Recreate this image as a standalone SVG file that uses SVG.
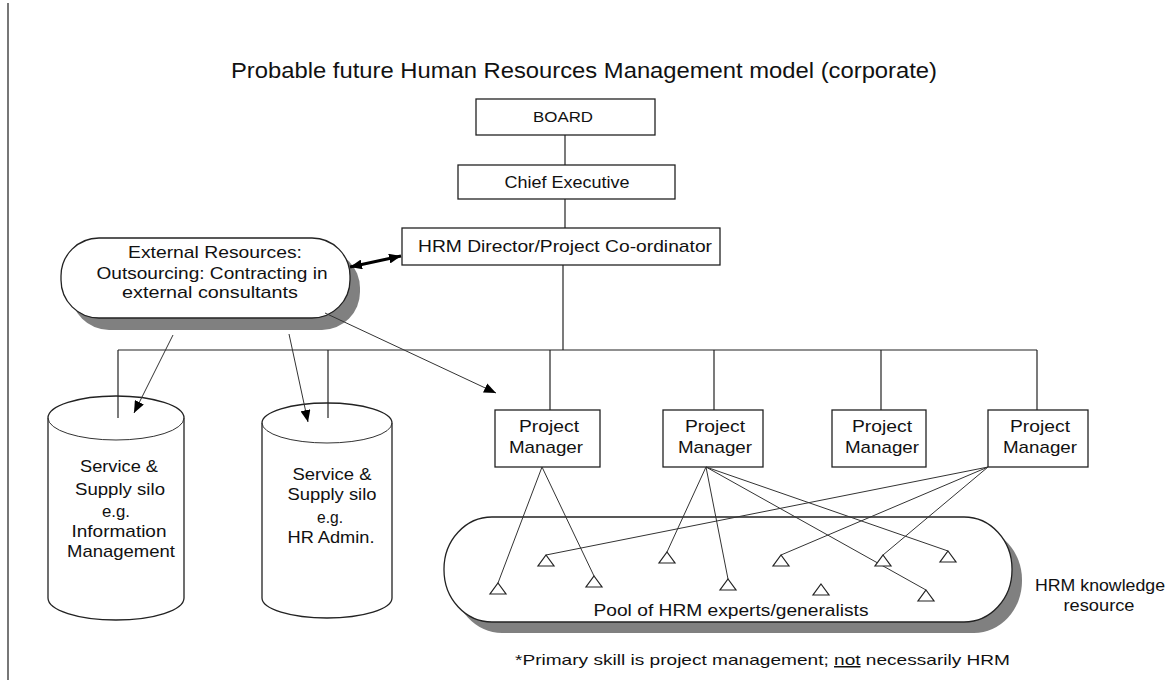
<svg xmlns="http://www.w3.org/2000/svg" width="1170" height="682" viewBox="0 0 1170 682">
<defs>
<style>
text{font-family:"Liberation Sans","DejaVu Sans",sans-serif;fill:#111;font-size:17px}
.c{text-anchor:middle}
.box{fill:#fff;stroke:#222;stroke-width:1.3}
.ln{fill:none;stroke:#222;stroke-width:1.2}
.thin{fill:none;stroke:#333;stroke-width:1}
.sh{fill:#808080;stroke:none}
.tri{fill:#fff;stroke:#222;stroke-width:1.2}
</style>
<marker id="ah" viewBox="0 0 12 10" refX="12" refY="5" markerWidth="12" markerHeight="10" markerUnits="userSpaceOnUse" orient="auto">
<path d="M0,0 L12,5 L0,10 z" fill="#000"/>
</marker>
<marker id="ahs" viewBox="0 0 12 10" refX="12" refY="5" markerWidth="12" markerHeight="10" markerUnits="userSpaceOnUse" orient="auto-start-reverse">
<path d="M0,0 L12,5 L0,10 z" fill="#000"/>
</marker>
</defs>
<rect width="1170" height="682" fill="#fff"/>
<line x1="8" y1="3" x2="8" y2="680" stroke="#777" stroke-width="2"/>
<text id="title" x="584" y="78" class="c" style="font-size:22px" textLength="706" lengthAdjust="spacingAndGlyphs">Probable future Human Resources Management model (corporate)</text>

<g id="board"><rect class="box" x="476" y="99" width="179" height="36"/><text class="c" x="563" y="122" style="font-size:15px" textLength="60" lengthAdjust="spacingAndGlyphs">BOARD</text></g>
<g id="chief"><rect class="box" x="458" y="165" width="217" height="34"/><text class="c" x="567" y="188" textLength="125" lengthAdjust="spacingAndGlyphs">Chief Executive</text></g>
<g id="hrm-director"><rect class="box" x="402" y="228" width="318" height="37"/><text class="c" x="565" y="252" textLength="294" lengthAdjust="spacingAndGlyphs">HRM Director/Project Co-ordinator</text></g>

<g id="external">
<rect class="sh" x="71" y="250" width="289" height="80" rx="38" ry="38"/>
<rect class="box" x="61" y="238" width="289" height="80" rx="38" ry="38"/>
<text class="c" x="215" y="258" textLength="174" lengthAdjust="spacingAndGlyphs">External Resources:</text>
<text class="c" x="212" y="279" textLength="231" lengthAdjust="spacingAndGlyphs">Outsourcing: Contracting in</text>
<text class="c" x="210" y="298" textLength="176" lengthAdjust="spacingAndGlyphs">external consultants</text>
</g>

<g id="silo-info">
<path class="box" d="M48,418 A68,22 0 0 1 184,418 L184,598 A68,22 0 0 1 48,598 Z"/>
<path class="thin" d="M48,418 A68,22 0 0 0 184,418"/>
<text class="c" x="119" y="472" textLength="78" lengthAdjust="spacingAndGlyphs">Service &amp;</text>
<text class="c" x="120" y="495" textLength="90" lengthAdjust="spacingAndGlyphs">Supply silo</text>
<text class="c" x="116" y="517" textLength="28" lengthAdjust="spacingAndGlyphs">e.g.</text>
<text class="c" x="119" y="537" textLength="95" lengthAdjust="spacingAndGlyphs">Information</text>
<text class="c" x="121" y="557" textLength="108" lengthAdjust="spacingAndGlyphs">Management</text>
</g>

<g id="silo-hr">
<path class="box" d="M262,423 A65,20 0 0 1 392,423 L392,598 A65,20 0 0 1 262,598 Z"/>
<path class="thin" d="M262,423 A65,20 0 0 0 392,423"/>
<text class="c" x="332" y="480" textLength="79" lengthAdjust="spacingAndGlyphs">Service &amp;</text>
<text class="c" x="332" y="500" textLength="89" lengthAdjust="spacingAndGlyphs">Supply silo</text>
<text class="c" x="330" y="523" textLength="26" lengthAdjust="spacingAndGlyphs">e.g.</text>
<text class="c" x="331" y="543" textLength="87" lengthAdjust="spacingAndGlyphs">HR Admin.</text>
</g>

<g id="pool">
<rect class="sh" x="454" y="528" width="568" height="105" rx="48" ry="52"/>
<rect class="box" x="444" y="517" width="568" height="105" rx="48" ry="52"/>
<text class="c" x="731" y="616" textLength="275" lengthAdjust="spacingAndGlyphs">Pool of HRM experts/generalists</text>
</g>

<g id="pm1"><rect class="box" x="495" y="410" width="105" height="57"/><text class="c" x="549" y="432" textLength="60" lengthAdjust="spacingAndGlyphs">Project</text><text class="c" x="546" y="453" textLength="74" lengthAdjust="spacingAndGlyphs">Manager</text></g>
<g id="pm2"><rect class="box" x="663" y="410" width="100" height="57"/><text class="c" x="715" y="432" textLength="60" lengthAdjust="spacingAndGlyphs">Project</text><text class="c" x="715" y="453" textLength="74" lengthAdjust="spacingAndGlyphs">Manager</text></g>
<g id="pm3"><rect class="box" x="832" y="410" width="94" height="57"/><text class="c" x="882" y="432" textLength="60" lengthAdjust="spacingAndGlyphs">Project</text><text class="c" x="882" y="453" textLength="74" lengthAdjust="spacingAndGlyphs">Manager</text></g>
<g id="pm4"><rect class="box" x="988" y="410" width="100" height="57"/><text class="c" x="1040" y="432" textLength="60" lengthAdjust="spacingAndGlyphs">Project</text><text class="c" x="1040" y="453" textLength="74" lengthAdjust="spacingAndGlyphs">Manager</text></g>

<g id="connectors">
<line class="ln" x1="565" y1="135" x2="565" y2="165"/>
<line class="ln" x1="565" y1="199" x2="565" y2="228"/>
<line class="ln" x1="563" y1="265" x2="563" y2="350"/>
<line class="ln" x1="118" y1="350" x2="1037" y2="350"/>
<line class="ln" x1="118" y1="350" x2="118" y2="418"/>
<line class="ln" x1="328" y1="350" x2="328" y2="418"/>
<line class="ln" x1="550" y1="350" x2="550" y2="410"/>
<line class="ln" x1="714" y1="350" x2="714" y2="410"/>
<line class="ln" x1="881" y1="350" x2="881" y2="410"/>
<line class="ln" x1="1037" y1="350" x2="1037" y2="410"/>
<line x1="350" y1="267" x2="401" y2="256" stroke="#000" stroke-width="3" marker-start="url(#ahs)" marker-end="url(#ah)"/>
<line class="thin" x1="173" y1="335" x2="134" y2="413" marker-end="url(#ah)"/>
<line class="thin" x1="289" y1="334" x2="308" y2="422" marker-end="url(#ah)"/>
<line class="thin" x1="325" y1="313" x2="496" y2="393" marker-end="url(#ah)"/>
</g>

<g id="pool-links">
<line class="thin" x1="542" y1="467" x2="498" y2="583"/>
<line class="thin" x1="542" y1="467" x2="594" y2="576"/>
<line class="thin" x1="706" y1="467" x2="667" y2="552"/>
<line class="thin" x1="706" y1="467" x2="728" y2="579"/>
<line class="thin" x1="706" y1="467" x2="926" y2="590"/>
<line class="thin" x1="706" y1="467" x2="948" y2="551"/>
<line class="thin" x1="988" y1="467" x2="546" y2="555"/>
<line class="thin" x1="988" y1="467" x2="781" y2="555"/>
<line class="thin" x1="988" y1="467" x2="883" y2="555"/>
</g>

<g id="experts">
<path class="tri" d="M498,583 L506,594 L490,594 Z"/>
<path class="tri" d="M546,555 L554,566 L538,566 Z"/>
<path class="tri" d="M594,576 L602,587 L586,587 Z"/>
<path class="tri" d="M667,552 L675,563 L659,563 Z"/>
<path class="tri" d="M728,579 L736,590 L720,590 Z"/>
<path class="tri" d="M781,555 L789,566 L773,566 Z"/>
<path class="tri" d="M821,584 L829,595 L813,595 Z"/>
<path class="tri" d="M883,555 L891,566 L875,566 Z"/>
<path class="tri" d="M948,551 L956,562 L940,562 Z"/>
<path class="tri" d="M926,590 L934,601 L918,601 Z"/>
</g>

<g id="knowledge-label">
<text class="c" x="1100" y="591" textLength="130" lengthAdjust="spacingAndGlyphs">HRM knowledge</text>
<text class="c" x="1099" y="611" textLength="71" lengthAdjust="spacingAndGlyphs">resource</text>
</g>

<text id="footnote" x="515" y="665" style="font-size:15px" textLength="495" lengthAdjust="spacingAndGlyphs">*Primary skill is project management; <tspan text-decoration="underline">not</tspan> necessarily HRM</text>
</svg>
